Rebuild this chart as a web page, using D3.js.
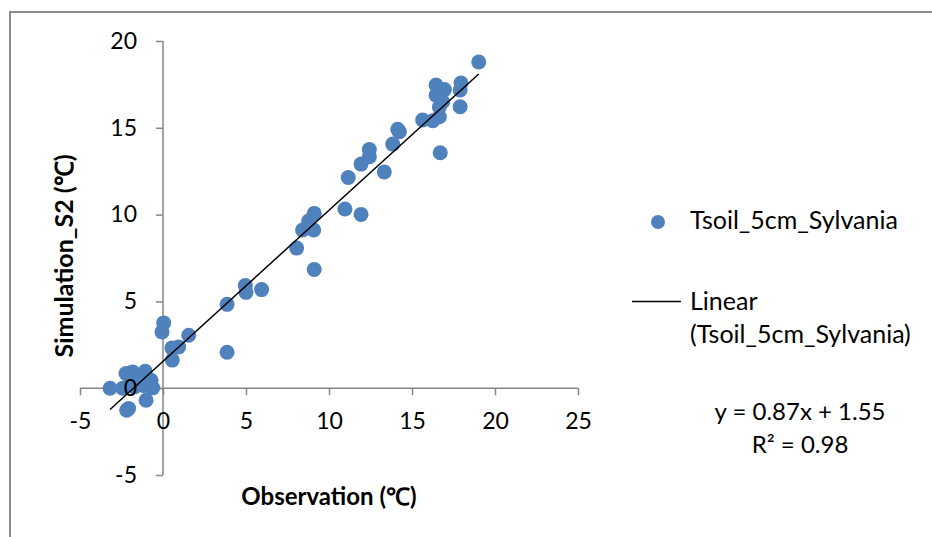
<!DOCTYPE html>
<html>
<head>
<meta charset="utf-8">
<script src="https://cdn.jsdelivr.net/npm/d3@7"></script>
<style>
  body { margin: 0; background: #fff; }
  svg text { font-family: Lato, "Open Sans", sans-serif; fill: #000; }
</style>
</head>
<body>
<script>
var observation = [-3.19, -2.43, -2.23, -1.83, -1.07, -0.72, -0.62, -1.73, -1.15, -1.45,
    -1.02, -2.07, -2.19, -1.95, 0.04, -0.06, 1.55, 0.94, 0.54, 0.56,
    3.86, 3.86, 4.96, 5.00, 5.94, 8.05, 8.41, 9.08, 8.77, 9.11,
    9.11, 10.96, 11.93, 11.16, 11.93, 12.43, 12.43, 13.33, 13.84, 14.14,
    14.24, 15.64, 16.25, 16.65, 16.70, 16.65, 16.85, 17.90, 16.45, 16.45,
    16.95, 17.90, 17.95, 19.02];
var simulation = [0.00, 0.00, 0.85, 0.94, 0.98, 0.46, 0.02, 0.07, 0.15, 0.55,
    -0.69, -1.17, -1.27, 0.35, 3.76, 3.24, 3.05, 2.38, 2.32, 1.62,
    4.83, 2.07, 5.92, 5.52, 5.68, 8.07, 9.11, 9.11, 9.63, 10.07,
    6.84, 10.32, 10.01, 12.14, 12.91, 13.33, 13.75, 12.45, 14.06, 14.91,
    14.77, 15.45, 15.41, 15.64, 13.56, 16.20, 16.50, 16.21, 16.88, 17.46,
    17.20, 17.18, 17.58, 18.79];
var xTicks = [-5, 0, 5, 10, 15, 20, 25];
var yTicks = [-5, 0, 5, 10, 15, 20];
var slope = 0.87, intercept = 1.55;

var w = 932, h = 537;
var svg = d3.select("body").append("svg")
    .attr("width", w)
    .attr("height", h);

// chart frame
svg.append("rect")
    .attr("x", 10).attr("y", 12)
    .attr("width", 940).attr("height", 560)
    .attr("fill", "none")
    .attr("stroke", "#8c8c8c")
    .attr("stroke-width", 2);

var x = d3.scaleLinear().domain([-5, 25]).range([80, 578]);
var y = d3.scaleLinear().domain([-5, 20]).range([475, 41]);
var fmt = function(d){ return String(d); };   // plain hyphen minus, like Excel

var xAxisGen = d3.axisBottom(x).tickValues(xTicks).tickSize(7).tickPadding(17).tickFormat(fmt);
var yAxisGen = d3.axisLeft(y).tickValues(yTicks).tickSize(7).tickPadding(19).tickFormat(fmt);

// axis lines under the points, labels drawn again on top
function drawAxes(withText){
    var xa = svg.append("g")
        .attr("transform", "translate(0," + y(0) + ")")
        .call(xAxisGen);
    var ya = svg.append("g")
        .attr("transform", "translate(" + x(0) + ",0)")
        .call(yAxisGen);
    [xa, ya].forEach(function(a){
        if (withText) {
            a.selectAll("path, line").remove();
            a.selectAll("text").style("font-size", "23px").attr("fill", "#000");
        } else {
            a.selectAll("text").remove();
            a.selectAll("path, line").attr("stroke", "#868686").attr("stroke-width", 1.5);
        }
    });
    if (!withText) {
        xa.select(".domain").attr("d", "M" + x(-5) + ",0H" + x(25));
        ya.select(".domain").attr("d", "M0," + y(-5) + "V" + y(20));
    } else {
        xa.selectAll("text").attr("dy", "0.71em");
    }
}
drawAxes(false);

// points
svg.append("g").selectAll("circle")
    .data(observation.map(function(d, i){ return [d, simulation[i]]; }))
    .enter()
    .append("circle")
    .attr("cx", function(d){ return x(d[0]); })
    .attr("cy", function(d){ return y(d[1]); })
    .attr("r", 7.5)
    .attr("fill", "#4f81bd");

// trend line
var x0 = d3.min(observation), x1 = d3.max(observation);
svg.append("line")
    .attr("x1", x(x0)).attr("y1", y(slope * x0 + intercept))
    .attr("x2", x(x1)).attr("y2", y(slope * x1 + intercept))
    .attr("stroke", "#000")
    .attr("stroke-width", 1.5);

drawAxes(true);

// axis titles
svg.append("text")
    .attr("x", 329).attr("y", 505)
    .attr("text-anchor", "middle")
    .style("font-size", "24px").style("font-weight", "bold")
    .text("Observation (℃)");
svg.append("text")
    .attr("transform", "translate(73,256) rotate(-90)")
    .attr("text-anchor", "middle")
    .style("font-size", "25px").style("font-weight", "bold")
    .text("Simulation_S2 (℃)");

// legend
var lg = svg.append("g");
lg.append("circle").attr("cx", 658).attr("cy", 222).attr("r", 7).attr("fill", "#4f81bd");
lg.append("text").attr("x", 690).attr("y", 229).style("font-size", "25px").text("Tsoil_5cm_Sylvania");
lg.append("line").attr("x1", 632).attr("x2", 681).attr("y1", 301.5).attr("y2", 301.5)
    .attr("stroke", "#000").attr("stroke-width", 1.5);
lg.append("text").attr("x", 690).attr("y", 310).style("font-size", "25px").text("Linear");
lg.append("text").attr("x", 690).attr("y", 343).style("font-size", "25px").text("(Tsoil_5cm_Sylvania)");

// regression equation
svg.append("text").attr("x", 800).attr("y", 420).attr("text-anchor", "middle")
    .style("font-size", "24px").text("y = " + slope + "x + " + intercept);
svg.append("text").attr("x", 800).attr("y", 453).attr("text-anchor", "middle")
    .style("font-size", "24px").text("R² = 0.98");
</script>
</body>
</html>
